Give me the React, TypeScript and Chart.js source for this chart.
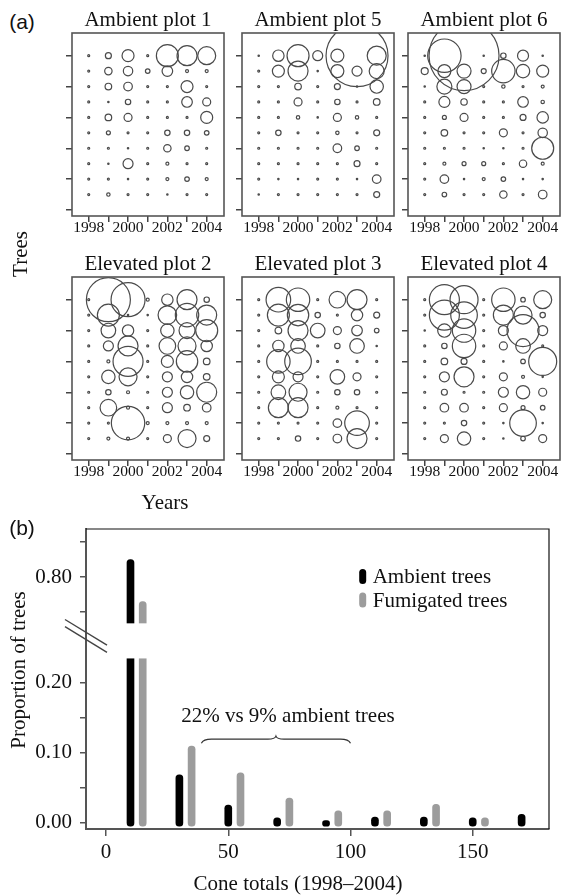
import React, { useEffect, useRef } from 'react';
import { Chart, registerables } from 'chart.js';

Chart.register(...registerables);

// ---------------- (a) bubble panels: cone production per tree and year ----------------
const years = [1998, 1999, 2000, 2001, 2002, 2003, 2004];
const yearTickLabels = [1998, 2000, 2002, 2004];
const treeRows = [10, 9, 8, 7, 6, 5, 4, 3, 2, 1];
const treeTicks = [0, 2, 4, 6, 8, 10];

// bubble radii (rows = trees from top, columns = years 1998..2004)
const ambientPlot1 = [
  [1, 3, 6, 1, 11, 10, 9],
  [1, 3.7, 4.7, 2.3, 5.3, 1.5, 1.5],
  [1, 3.3, 4.3, 1, 1, 6, 1],
  [1, 0.7, 2.7, 1, 1, 5.3, 4],
  [1, 3.3, 4, 1, 1, 1, 6],
  [1, 2, 1, 1, 2.7, 2.7, 2.3],
  [1, 1, 0.7, 1, 3.7, 2.3, 1],
  [1, 0.7, 5, 1, 1.5, 1, 1],
  [1, 1, 0.7, 1, 1.5, 2.3, 1.5],
  [1, 1.7, 1, 1, 0.7, 1, 1],
];
const ambientPlot5 = [
  [0.7, 5.7, 11, 5, 6.5, 31, 9.5],
  [1, 6, 10, 0.7, 6.5, 5, 7.5],
  [1, 1, 3.3, 1, 3, 0.7, 6.7],
  [1, 1, 4, 1, 2.7, 1, 3.3],
  [1, 1, 1.7, 0.7, 4, 1.7, 1],
  [1, 2.7, 1, 1, 1.7, 1, 3],
  [1, 1, 1, 1, 4.3, 2.3, 1],
  [1, 1, 1, 1, 1, 3, 1],
  [1, 0.7, 0.7, 1, 1, 0.7, 4.3],
  [0.7, 1, 1, 1, 1, 1, 3],
];
const ambientPlot6 = [
  [0.7, 16.7, 35, 0.7, 2.7, 5.5, 0.7],
  [3.5, 6.5, 7, 2.5, 11.7, 6.7, 6],
  [0.7, 7.5, 7, 1, 1.7, 1, 1.5],
  [1, 5.5, 3.2, 1, 1, 5.3, 1.7],
  [1, 2, 4, 1, 1, 3, 5.7],
  [1, 3.3, 1, 1, 4, 1, 4.7],
  [1, 1, 1, 0.7, 0.7, 1, 11],
  [1, 1.5, 2, 2, 1, 3.7, 1.5],
  [1, 4.3, 0.7, 1.5, 2.3, 0.7, 0.7],
  [1, 2.3, 1, 1, 3.7, 1, 4.3],
];
const elevatedPlot2 = [
  [1, 22, 17, 1.5, 5.7, 10, 2.7],
  [1, 11, 0.7, 0.7, 9.3, 11.7, 10],
  [1, 7.3, 5.7, 1, 6.7, 8, 11],
  [1, 5, 10, 1, 8.3, 9, 5.7],
  [1, 1.5, 15, 1, 6, 10.7, 3.3],
  [1, 6.7, 9, 1, 5, 5.7, 3.3],
  [1, 2.7, 1.5, 1, 5, 6.7, 10],
  [1, 8.3, 1.5, 1, 5, 3.3, 4.3],
  [1, 1, 16.7, 1.5, 1.5, 1.5, 1.5],
  [1, 1.5, 1.5, 1, 4, 9, 3],
];
const elevatedPlot3 = [
  [1, 12.3, 11.7, 1, 8.3, 10, 1],
  [1, 11, 10.7, 2.7, 1, 5.7, 3],
  [1, 3.3, 10, 7.3, 4, 5.3, 2.3],
  [1, 5.7, 7.3, 1, 2.7, 7.3, 0.7],
  [1, 11.7, 13.3, 1, 1, 1, 1],
  [1, 6, 5, 1, 7.3, 4, 1],
  [1, 7.3, 9, 1, 2.7, 2.7, 1],
  [1, 10, 10, 1, 1.5, 1, 1],
  [1, 1, 1, 1, 4.3, 12.3, 1],
  [1, 1, 2.7, 1, 4.3, 10, 1],
];
const elevatedPlot4 = [
  [1, 15, 14, 1, 11.7, 2.3, 9],
  [1, 15, 13.3, 1, 10, 9, 2.7],
  [0.7, 6.7, 11.7, 1, 5, 16, 5],
  [1, 2.7, 11.7, 1, 4, 7.3, 1],
  [1, 3.3, 3, 1, 0.7, 2.3, 14],
  [1, 5, 10, 1, 4, 1.5, 0.7],
  [1, 3, 1, 1, 5, 6.7, 4],
  [1, 4.3, 4.3, 1, 4, 2, 2.3],
  [1, 1, 2.7, 1, 0.7, 13.3, 0.7],
  [1, 4, 6.7, 1, 0.7, 2.3, 4],
];
const panelTitles = ['Ambient plot 1', 'Ambient plot 5', 'Ambient plot 6', 'Elevated plot 2', 'Elevated plot 3', 'Elevated plot 4'];
const panelData = [ambientPlot1, ambientPlot5, ambientPlot6, elevatedPlot2, elevatedPlot3, elevatedPlot4];

// ---------------- (b) distribution of cone totals ----------------
const ambientBins = [10, 30, 50, 70, 90, 110, 130, 150, 170];
const ambientProportion = [0.825, 0.068, 0.025, 0.007, 0.003, 0.008, 0.008, 0.007, 0.012];
const fumigatedBins = [15, 35, 55, 75, 95, 115, 135, 155];
const fumigatedProportion = [0.765, 0.109, 0.071, 0.035, 0.017, 0.017, 0.026, 0.007];
const coneTicks = [0, 50, 100, 150];
const proportionTicks = [0, 0.05, 0.1, 0.15, 0.2, 0.75, 0.8, 0.85];
const proportionLabels = [0, 0.1, 0.2, 0.8];
const seriesNames = ['Ambient trees', 'Fumigated trees'];
const breakLow = 0.234;
const breakHigh = 0.734;
const breakGap = 0.05;
const annotationText = '22% vs 9% ambient trees';
const annotationAt = [74.4, 0.151];
const braceRange = [39, 100];
const braceLevel = 0.119;

const shift = breakHigh - breakLow - breakGap;
const toDisplay = (v: number) => (v >= breakHigh ? v - shift : v);
const toReal = (d: number) => (d > breakLow + breakGap / 2 ? d + shift : d);

const SERIF = '"Liberation Serif", "Times New Roman", serif';
const SANS = '"Liberation Sans", Arial, sans-serif';

// layout
const PANEL_LEFTS = [72, 242, 408];
const PANEL_TOPS = [33, 277];
const PANEL_W = 152;
const PANEL_H = 183;
const AXIS_W = 12;
const TITLE_H = 33;
const XAXIS_H = 24;

const framePlugin = {
  id: 'frame',
  afterDatasetsDraw(chart: any) {
    const { ctx, chartArea: a } = chart;
    ctx.save();
    ctx.strokeStyle = '#555';
    ctx.lineWidth = 1.6;
    ctx.strokeRect(a.left, a.top, a.right - a.left, a.bottom - a.top);
    ctx.restore();
  },
};

function BubblePanel({ idx }: { idx: number }) {
  const ref = useRef<HTMLCanvasElement>(null);
  const col = idx % 3;
  const row = Math.floor(idx / 3);
  const left = PANEL_LEFTS[col] - AXIS_W;
  const top = PANEL_TOPS[row] - TITLE_H;
  const width = AXIS_W + PANEL_W + 1;
  const height = TITLE_H + PANEL_H + XAXIS_H;

  useEffect(() => {
    if (!ref.current) return;
    const grid = panelData[idx];
    const points: { x: number; y: number; r: number }[] = [];
    grid.forEach((r, ri) => r.forEach((rad, ci) => points.push({ x: years[ci], y: treeRows[ri], r: rad })));
    const chart = new Chart(ref.current, {
      type: 'bubble',
      data: {
        datasets: [
          {
            data: points,
            borderColor: '#4a4a4a',
            backgroundColor: 'rgba(0,0,0,0)',
            borderWidth: 1.2,
            clip: 0,
          } as any,
        ],
      },
      options: {
        animation: false,
        responsive: false,
        events: [],
        layout: { autoPadding: false, padding: { left: 0, right: 1, top: 0, bottom: 0 } },
        plugins: {
          legend: { display: false },
          tooltip: { enabled: false },
          title: {
            display: true,
            text: panelTitles[idx],
            fullSize: false,
            color: '#111',
            font: { family: SERIF, size: 21, weight: 'normal', lineHeight: 1 },
            padding: { top: 10, bottom: 2 },
          },
        },
        scales: {
          x: {
            type: 'linear',
            min: 1997.15,
            max: 2004.88,
            afterBuildTicks: (s: any) => {
              s.ticks = years.map((v) => ({ value: v }));
            },
            afterFit: (s: any) => {
              s.height = XAXIS_H;
            },
            grid: { drawOnChartArea: false, drawTicks: true, tickLength: 6, color: '#444', lineWidth: 1.5 },
            border: { display: false },
            ticks: {
              autoSkip: false,
              maxRotation: 0,
              padding: -2,
              color: '#111',
              font: { family: SERIF, size: 15.5, lineHeight: 1 },
              callback: (v: any) => (yearTickLabels.includes(Number(v)) ? String(v) : ''),
            },
          },
          y: {
            type: 'linear',
            min: -0.39,
            max: 11.47,
            afterBuildTicks: (s: any) => {
              s.ticks = treeTicks.map((v) => ({ value: v }));
            },
            afterFit: (s: any) => {
              s.width = AXIS_W;
            },
            grid: { drawOnChartArea: false, drawTicks: true, tickLength: 6, color: '#444', lineWidth: 1.5 },
            border: { display: false },
            ticks: { display: false },
          },
        },
      } as any,
      plugins: [framePlugin],
    });
    return () => chart.destroy();
  }, [idx]);

  return (
    <canvas
      ref={ref}
      width={width}
      height={height}
      style={{ position: 'absolute', left, top, width, height }}
    />
  );
}

const coneDecor = {
  id: 'coneDecor',
  afterDatasetsDraw(chart: any) {
    const { ctx, chartArea: a, scales } = chart;
    const x = scales.x;
    const y = scales.y;
    ctx.save();
    // axis break gap
    const gTop = y.getPixelForValue(toDisplay(breakHigh));
    const gBot = y.getPixelForValue(breakLow);
    ctx.fillStyle = '#fff';
    ctx.fillRect(a.left + 1.5, gTop, a.right - a.left - 2.5, gBot - gTop);
    // top and right frame
    ctx.strokeStyle = '#111';
    ctx.lineWidth = 1.2;
    ctx.beginPath();
    ctx.moveTo(a.left, a.top);
    ctx.lineTo(a.right, a.top);
    ctx.lineTo(a.right, a.bottom);
    ctx.stroke();
    // break marks
    const yc = (gTop + gBot) / 2 - 5;
    ctx.strokeStyle = '#444';
    ctx.lineWidth = 1.4;
    for (const off of [-3.6, 3.6]) {
      ctx.beginPath();
      ctx.moveTo(a.left - 21, yc + off - 12.8);
      ctx.lineTo(a.left + 21, yc + off + 12.8);
      ctx.stroke();
    }
    // brace
    const x0 = x.getPixelForValue(braceRange[0]);
    const x1 = x.getPixelForValue(braceRange[1]);
    const xm = (x0 + x1) / 2;
    const yb = y.getPixelForValue(braceLevel);
    ctx.strokeStyle = '#333';
    ctx.lineWidth = 1.2;
    ctx.beginPath();
    ctx.moveTo(x0, yb + 4);
    ctx.quadraticCurveTo(x0 + 2, yb, x0 + 10, yb);
    ctx.lineTo(xm - 8, yb);
    ctx.quadraticCurveTo(xm - 1, yb, xm, yb - 3);
    ctx.quadraticCurveTo(xm + 1, yb, xm + 8, yb);
    ctx.lineTo(x1 - 10, yb);
    ctx.quadraticCurveTo(x1 - 2, yb, x1, yb + 4);
    ctx.stroke();
    // annotation text
    ctx.fillStyle = '#111';
    ctx.font = `21px ${SERIF}`;
    ctx.textAlign = 'center';
    ctx.textBaseline = 'middle';
    ctx.fillText(annotationText, x.getPixelForValue(annotationAt[0]), y.getPixelForValue(annotationAt[1]));
    // legend
    ctx.textAlign = 'left';
    chart.data.datasets.forEach((ds: any, i: number) => {
      const mx = a.left + 276.7;
      const my = a.top + 47.5 + i * 23.5;
      ctx.fillStyle = ds.backgroundColor;
      ctx.beginPath();
      (ctx as any).roundRect(mx - 3.5, my - 7.5, 7, 15, 3.5);
      ctx.fill();
      ctx.fillStyle = '#111';
      ctx.fillText(ds.label, mx + 10, my + 1);
    });
    ctx.restore();
  },
};

function ConeChart() {
  const ref = useRef<HTMLCanvasElement>(null);
  useEffect(() => {
    if (!ref.current) return;
    const chart = new Chart(ref.current, {
      type: 'bar',
      data: {
        datasets: [
          {
            label: seriesNames[0],
            data: ambientBins.map((b, i) => ({ x: b, y: toDisplay(ambientProportion[i]) })),
            backgroundColor: '#000000',
          },
          {
            label: seriesNames[1],
            data: fumigatedBins.map((b, i) => ({ x: b, y: toDisplay(fumigatedProportion[i]) })),
            backgroundColor: '#9c9c9c',
          },
        ],
      },
      options: {
        animation: false,
        responsive: false,
        events: [],
        layout: { autoPadding: false, padding: { left: 0, right: 12, top: 24, bottom: 0 } },
        datasets: {
          bar: { barThickness: 7, borderRadius: 3.5, borderSkipped: false, grouped: false, base: -0.005 },
        },
        plugins: { legend: { display: false }, tooltip: { enabled: false }, title: { display: false } },
        scales: {
          x: {
            type: 'linear',
            offset: false,
            min: -8.2,
            max: 181.2,
            afterBuildTicks: (s: any) => {
              s.ticks = coneTicks.map((v) => ({ value: v }));
            },
            afterFit: (s: any) => {
              s.height = 67;
            },
            grid: { offset: false, drawOnChartArea: false, drawTicks: true, tickLength: 7, color: '#555', lineWidth: 1.5 },
            border: { display: true, color: '#555', width: 2 },
            ticks: {
              autoSkip: false,
              maxRotation: 0,
              padding: 6,
              color: '#111',
              font: { family: SERIF, size: 21, lineHeight: 1 },
              callback: (v: any) => String(v),
            },
          },
          y: {
            type: 'linear',
            min: -0.009,
            max: 0.4184,
            afterBuildTicks: (s: any) => {
              s.ticks = proportionTicks.map((v) => ({ value: toDisplay(v) }));
            },
            afterFit: (s: any) => {
              s.width = 86;
            },
            grid: { drawOnChartArea: false, drawTicks: true, tickLength: 6, color: '#555', lineWidth: 1.5 },
            border: { display: true, color: '#555', width: 2 },
            ticks: {
              padding: 8,
              color: '#111',
              font: { family: SERIF, size: 21, lineHeight: 1 },
              callback: (v: any) => {
                const r = toReal(Number(v));
                const hit = proportionLabels.find((l) => Math.abs(l - r) < 1e-6);
                return hit === undefined ? '' : hit.toFixed(2);
              },
            },
          },
        },
      } as any,
      plugins: [coneDecor],
    });
    return () => chart.destroy();
  }, []);
  return (
    <canvas ref={ref} width={561} height={391} style={{ position: 'absolute', left: 0, top: 505, width: 561, height: 391 }} />
  );
}

function Label({ text, x, y, size = 21, family = SERIF, rotate = false }: any) {
  return (
    <div
      style={{
        position: 'absolute',
        left: x,
        top: y,
        transform: `translate(-50%, -50%)${rotate ? ' rotate(-90deg)' : ''}`,
        fontFamily: family,
        fontSize: size,
        lineHeight: 1,
        whiteSpace: 'nowrap',
        color: '#111',
      }}
    >
      {text}
    </div>
  );
}

export default function App() {
  return (
    <div
      style={{
        position: 'absolute',
        left: 0,
        top: 0,
        width: 561,
        height: 896,
        overflow: 'hidden',
        background: '#fff',
      }}
    >
      {panelData.map((_, i) => (
        <BubblePanel key={i} idx={i} />
      ))}
      <ConeChart />
      <Label text="(a)" x={22} y={21} family={SANS} />
      <Label text="(b)" x={22} y={527} family={SANS} />
      <Label text="Trees" x={20} y={254} rotate />
      <Label text="Years" x={165} y={502} />
      <Label text="Proportion of trees" x={18} y={670} rotate />
      <Label text={'Cone totals (1998\u20132004)'} x={298} y={883} />
    </div>
  );
}
